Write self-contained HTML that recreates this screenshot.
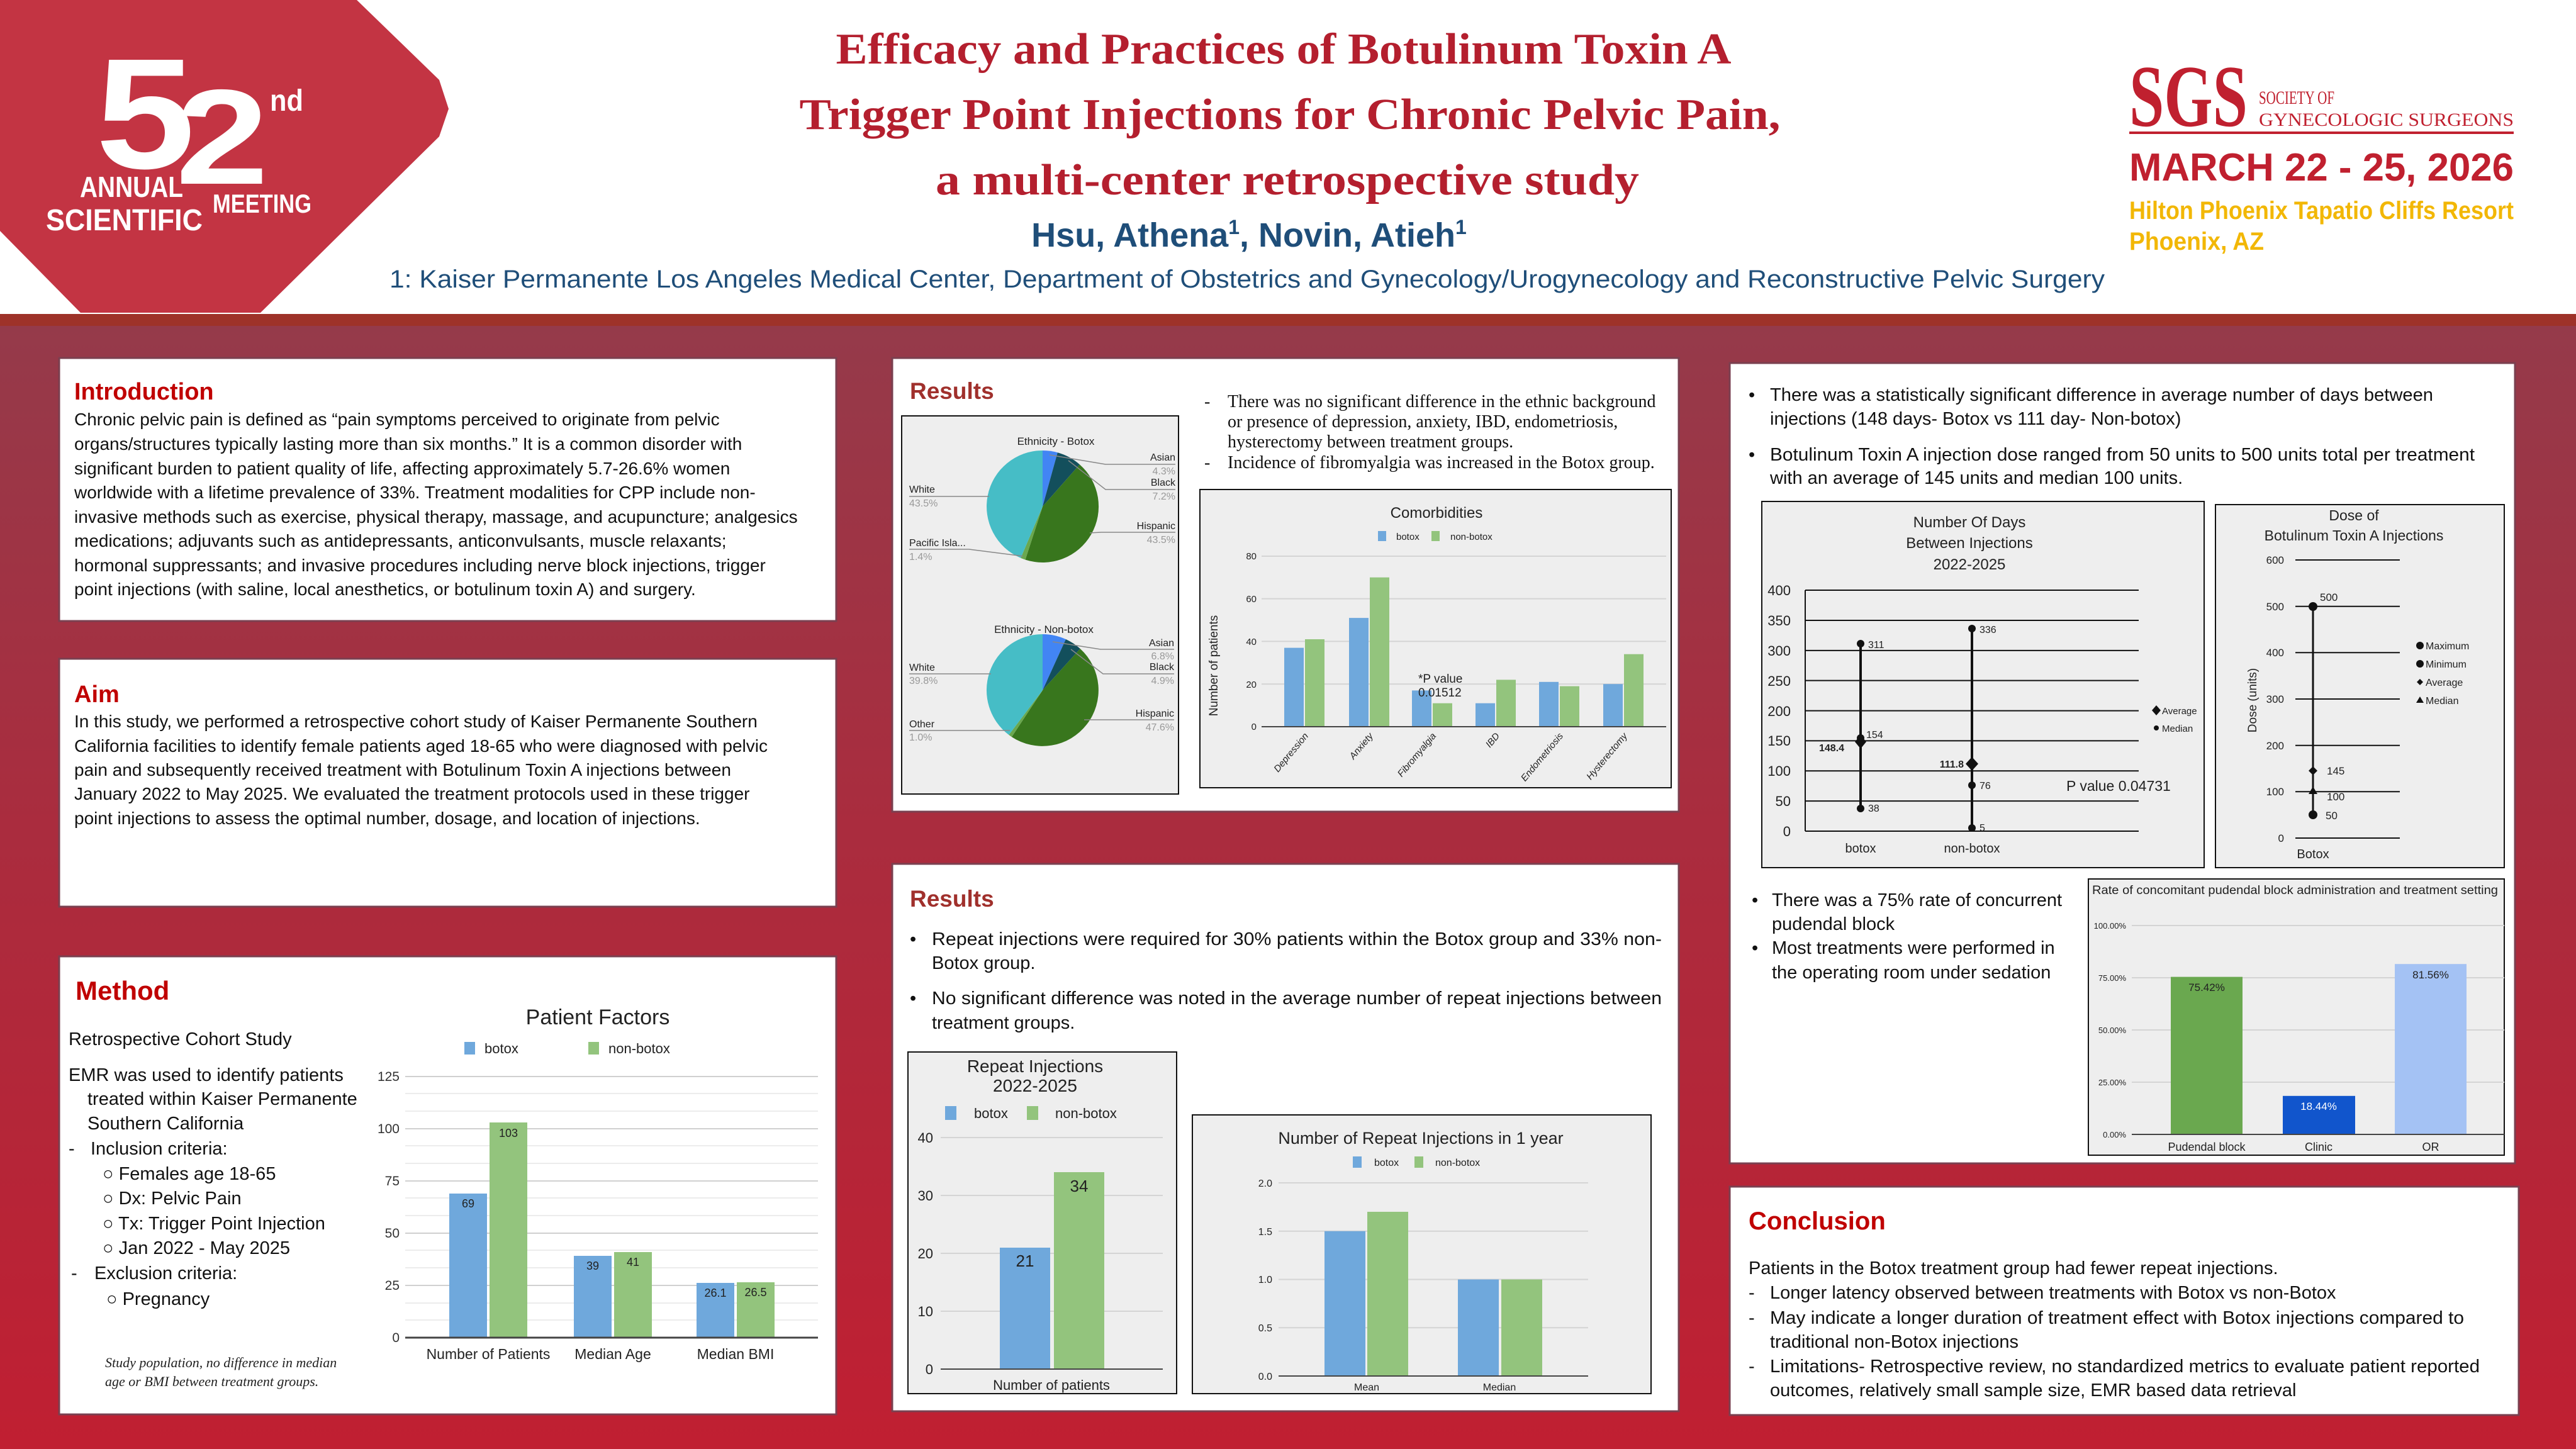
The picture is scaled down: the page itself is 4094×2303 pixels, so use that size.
<!DOCTYPE html>
<html><head><meta charset="utf-8">
<style>
html,body{margin:0;padding:0;background:#fff;}
svg{display:block;}
</style></head>
<body>
<svg xmlns="http://www.w3.org/2000/svg" width="4094" height="2303" viewBox="0 0 4094 2303" font-family="Liberation Sans, Arial, sans-serif">
<defs>
<linearGradient id="bg" x1="0" y1="0" x2="0" y2="1">
<stop offset="0" stop-color="#953a4a"/>
<stop offset="0.45" stop-color="#aa2c3e"/>
<stop offset="1" stop-color="#c01f32"/>
</linearGradient>
</defs>
<rect x="0" y="0" width="4094" height="500" fill="#fff"/>
<rect x="0" y="517" width="4094" height="1786" fill="url(#bg)"/>
<rect x="0" y="499" width="4094" height="19" fill="#9e3229"/>

<!-- logo -->
<polygon points="0,0 567,0 698,127 713,173 698,217 414,497 128,497 0,367" fill="#c33443"/>
<text x="152" y="267" font-size="250" font-weight="bold" fill="#fff" textLength="158" lengthAdjust="spacingAndGlyphs">5</text>
<text x="279" y="292" font-size="215" font-weight="bold" fill="#fff" textLength="148" lengthAdjust="spacingAndGlyphs">2</text>
<text x="429" y="176" font-size="48" font-weight="bold" fill="#fff" textLength="53" lengthAdjust="spacingAndGlyphs">nd</text>
<text x="127" y="313" font-size="46" font-weight="bold" fill="#fff" textLength="164" lengthAdjust="spacingAndGlyphs">ANNUAL</text>
<text x="73" y="366" font-size="48" font-weight="bold" fill="#fff" textLength="249" lengthAdjust="spacingAndGlyphs">SCIENTIFIC</text>
<text x="338" y="338" font-size="42" font-weight="bold" fill="#fff" textLength="157" lengthAdjust="spacingAndGlyphs">MEETING</text>

<!-- title -->
<g font-family="Liberation Serif, serif" font-weight="bold" fill="#b41f2e" font-size="70" text-anchor="middle">
<text x="2040" y="101" textLength="1423" lengthAdjust="spacingAndGlyphs">Efficacy and Practices of Botulinum Toxin A</text>
<text x="2050" y="205" textLength="1559" lengthAdjust="spacingAndGlyphs">Trigger Point Injections for Chronic Pelvic Pain,</text>
<text x="2046" y="309" textLength="1118" lengthAdjust="spacingAndGlyphs">a multi-center retrospective study</text>
</g>
<text x="1985" y="392" font-size="54" font-weight="bold" fill="#1f4e79" text-anchor="middle">Hsu, Athena<tspan font-size="32" dy="-20">1</tspan><tspan dy="20">, Novin, Atieh</tspan><tspan font-size="32" dy="-20">1</tspan></text>
<text x="619" y="457" font-size="40" fill="#1f4e79" textLength="2726" lengthAdjust="spacingAndGlyphs">1: Kaiser Permanente Los Angeles Medical Center, Department of Obstetrics and Gynecology/Urogynecology and Reconstructive Pelvic Surgery</text>

<!-- SGS -->
<text x="3384" y="200" font-family="Liberation Serif, serif" font-size="140" font-weight="bold" fill="#c0202f" textLength="188" lengthAdjust="spacingAndGlyphs">SGS</text>
<text x="3590" y="165" font-family="Liberation Serif, serif" font-size="30" fill="#c0202f" textLength="120" lengthAdjust="spacingAndGlyphs">SOCIETY OF</text>
<text x="3590" y="200" font-family="Liberation Serif, serif" font-size="30" fill="#c0202f" textLength="405" lengthAdjust="spacingAndGlyphs">GYNECOLOGIC SURGEONS</text>
<rect x="3384" y="209" width="611" height="4" fill="#c0202f"/>
<text x="3384" y="287" font-size="62" font-weight="bold" fill="#c0202f" textLength="611" lengthAdjust="spacingAndGlyphs">MARCH 22 - 25, 2026</text>
<text x="3384" y="348" font-size="40" font-weight="bold" fill="#f2b705" textLength="611" lengthAdjust="spacingAndGlyphs">Hilton Phoenix Tapatio Cliffs Resort</text>
<text x="3384" y="397" font-size="40" font-weight="bold" fill="#f2b705" textLength="214" lengthAdjust="spacingAndGlyphs">Phoenix, AZ</text>

<!-- panels -->
<g fill="#fff" stroke="#7a4050" stroke-width="3">
<rect x="94" y="569" width="1235" height="418"/>
<rect x="94" y="1047" width="1235" height="394"/>
<rect x="94" y="1520" width="1235" height="728"/>
<rect x="1418" y="569" width="1250" height="721"/>
<rect x="1418" y="1373" width="1250" height="870"/>
<rect x="2749" y="577" width="1248" height="1272"/>
<rect x="2749" y="1886" width="1254" height="363"/>
</g>

<!-- Introduction -->
<text x="118" y="635" font-size="38" font-weight="bold" fill="#c00000">Introduction</text>
<g font-size="28" fill="#111">
<text x="118" y="676">Chronic pelvic pain is defined as “pain symptoms perceived to originate from pelvic</text>
<text x="118" y="715">organs/structures typically lasting more than six months.” It is a common disorder with</text>
<text x="118" y="754">significant burden to patient quality of life, affecting approximately 5.7-26.6% women</text>
<text x="118" y="792">worldwide with a lifetime prevalence of 33%. Treatment modalities for CPP include non-</text>
<text x="118" y="831">invasive methods such as exercise, physical therapy, massage, and acupuncture; analgesics</text>
<text x="118" y="869">medications; adjuvants such as antidepressants, anticonvulsants, muscle relaxants;</text>
<text x="118" y="908">hormonal suppressants; and invasive procedures including nerve block injections, trigger</text>
<text x="118" y="946">point injections (with saline, local anesthetics, or botulinum toxin A) and surgery.</text>
</g>
<!-- Aim -->
<text x="118" y="1116" font-size="38" font-weight="bold" fill="#c00000">Aim</text>
<g font-size="28" fill="#111">
<text x="118" y="1156">In this study, we performed a retrospective cohort study of Kaiser Permanente Southern</text>
<text x="118" y="1195">California facilities to identify female patients aged 18-65 who were diagnosed with pelvic</text>
<text x="118" y="1233">pain and subsequently received treatment with Botulinum Toxin A  injections between</text>
<text x="118" y="1271">January 2022 to May 2025. We evaluated the treatment protocols used in these trigger</text>
<text x="118" y="1310">point injections to assess the optimal number, dosage, and location of injections.</text>
</g>

<!-- Method -->
<text x="120" y="1589" font-size="42" font-weight="bold" fill="#c00000">Method</text>
<g font-size="29" fill="#111">
<text x="109" y="1661">Retrospective Cohort Study</text>
<text x="109" y="1718">EMR was used to identify patients</text>
<text x="139" y="1756">treated within Kaiser Permanente</text>
<text x="139" y="1795">Southern California</text>
<text x="109" y="1835">-</text><text x="144" y="1835">Inclusion criteria:</text>
<text x="163" y="1875">○ Females age 18-65</text>
<text x="163" y="1914">○ Dx: Pelvic Pain</text>
<text x="163" y="1954">○ Tx: Trigger Point Injection</text>
<text x="163" y="1993">○ Jan 2022 - May 2025</text>
<text x="113" y="2033">-</text><text x="150" y="2033">Exclusion criteria:</text>
<text x="169" y="2074">○ Pregnancy</text>
</g>
<g font-family="Liberation Serif, serif" font-style="italic" font-size="22" fill="#222">
<text x="167" y="2173">Study population, no difference in median</text>
<text x="167" y="2203">age or BMI between treatment groups.</text>
</g>
<!-- Patient factors chart -->
<text x="950" y="1628" font-size="34" text-anchor="middle" fill="#222">Patient Factors</text>
<rect x="738" y="1656" width="17" height="20" fill="#6fa8dc"/><text x="770" y="1674" font-size="22" fill="#222">botox</text>
<rect x="935" y="1656" width="17" height="20" fill="#93c47d"/><text x="967" y="1674" font-size="22" fill="#222">non-botox</text>
<g stroke="#ececec" stroke-width="2">
<line x1="644" x2="1300" y1="1738" y2="1738"/><line x1="644" x2="1300" y1="1766" y2="1766"/>
<line x1="644" x2="1300" y1="1821" y2="1821"/><line x1="644" x2="1300" y1="1849" y2="1849"/>
<line x1="644" x2="1300" y1="1904" y2="1904"/><line x1="644" x2="1300" y1="1932" y2="1932"/>
<line x1="644" x2="1300" y1="1987" y2="1987"/><line x1="644" x2="1300" y1="2015" y2="2015"/>
<line x1="644" x2="1300" y1="2071" y2="2071"/><line x1="644" x2="1300" y1="2098" y2="2098"/>
</g>
<g stroke="#d0d0d0" stroke-width="2">
<line x1="644" x2="1300" y1="1711" y2="1711"/><line x1="644" x2="1300" y1="1794" y2="1794"/>
<line x1="644" x2="1300" y1="1877" y2="1877"/><line x1="644" x2="1300" y1="1960" y2="1960"/>
<line x1="644" x2="1300" y1="2043" y2="2043"/>
</g>
<g font-size="21" fill="#333" text-anchor="end">
<text x="635" y="1718">125</text><text x="635" y="1801">100</text><text x="635" y="1884">75</text>
<text x="635" y="1967">50</text><text x="635" y="2050">25</text><text x="635" y="2133">0</text>
</g>
<rect x="714" y="1897" width="60" height="229" fill="#6fa8dc"/>
<rect x="778" y="1784" width="60" height="342" fill="#93c47d"/>
<rect x="912" y="1996" width="60" height="130" fill="#6fa8dc"/>
<rect x="976" y="1990" width="60" height="136" fill="#93c47d"/>
<rect x="1107" y="2039" width="60" height="87" fill="#6fa8dc"/>
<rect x="1171" y="2038" width="60" height="88" fill="#93c47d"/>
<line x1="644" x2="1300" y1="2126" y2="2126" stroke="#444" stroke-width="3"/>
<g font-size="18" fill="#222" text-anchor="middle">
<text x="744" y="1919">69</text><text x="808" y="1807">103</text>
<text x="942" y="2018">39</text><text x="1006" y="2012">41</text>
<text x="1137" y="2061">26.1</text><text x="1201" y="2060">26.5</text>
</g>
<g font-size="23" fill="#222" text-anchor="middle">
<text x="776" y="2160">Number of Patients</text><text x="974" y="2160">Median Age</text><text x="1169" y="2160">Median BMI</text>
</g>

<!-- Results 1 -->
<text x="1446" y="634" font-size="37" font-weight="bold" fill="#a0302c">Results</text>
<g font-family="Liberation Serif, serif" font-size="28" fill="#111">
<text x="1914" y="647">-</text><text x="1951" y="647">There was no significant difference in the ethnic background</text>
<text x="1951" y="679">or presence of depression, anxiety, IBD, endometriosis,</text>
<text x="1951" y="711">hysterectomy between treatment groups.</text>
<text x="1914" y="744">-</text><text x="1951" y="744">Incidence of fibromyalgia was increased in the Botox group.</text>
</g>
<!-- pies -->
<rect x="1433" y="661" width="440" height="601" fill="#eeeeee" stroke="#111" stroke-width="2"/>
<text x="1678" y="707" font-size="17" text-anchor="middle" fill="#222">Ethnicity - Botox</text>
<path d="M1657,805 L1657,716 A89,89 0 0 1 1680.8,719.2 Z" fill="#4285f4"/>
<path d="M1657,805 L1680.8,719.2 A89,89 0 0 1 1715.9,738.2 Z" fill="#134f5c"/>
<path d="M1657,805 L1715.9,738.2 A89,89 0 0 1 1629.5,889.6 Z" fill="#38761d"/>
<path d="M1657,805 L1629.5,889.6 A89,89 0 0 1 1622.2,886.9 Z" fill="#6aa84f"/>
<path d="M1657,805 L1622.2,886.9 A89,89 0 0 1 1657,716 Z" fill="#46bdc6"/>
<g stroke="#888" stroke-width="1.5" fill="none">
<polyline points="1668,723 1757,738 1868,738"/>
<polyline points="1698,732 1757,778 1868,778"/>
<polyline points="1732,847 1750,846 1868,846"/>
<polyline points="1445,789 1572,789"/>
<polyline points="1445,873 1540,873 1626,884"/>
</g>
<g font-size="16" fill="#222">
<text x="1868" y="732" text-anchor="end">Asian</text><text x="1868" y="754" text-anchor="end" fill="#999">4.3%</text>
<text x="1868" y="772" text-anchor="end">Black</text><text x="1868" y="794" text-anchor="end" fill="#999">7.2%</text>
<text x="1868" y="841" text-anchor="end">Hispanic</text><text x="1868" y="863" text-anchor="end" fill="#999">43.5%</text>
<text x="1445" y="783">White</text><text x="1445" y="805" fill="#999">43.5%</text>
<text x="1445" y="868">Pacific Isla...</text><text x="1445" y="890" fill="#999">1.4%</text>
</g>
<text x="1659" y="1006" font-size="17" text-anchor="middle" fill="#222">Ethnicity - Non-botox</text>
<path d="M1657,1097 L1657,1008 A89,89 0 0 1 1693.9,1016 Z" fill="#4285f4"/>
<path d="M1657,1097 L1693.9,1016 A89,89 0 0 1 1716.7,1031 Z" fill="#134f5c"/>
<path d="M1657,1097 L1716.7,1031 A89,89 0 0 1 1607.9,1171.2 Z" fill="#38761d"/>
<path d="M1657,1097 L1607.9,1171.2 A89,89 0 0 1 1603.3,1168 Z" fill="#6aa84f"/>
<path d="M1657,1097 L1603.3,1168 A89,89 0 0 1 1657,1008 Z" fill="#46bdc6"/>
<g stroke="#888" stroke-width="1.5" fill="none">
<polyline points="1673,1020 1749,1032 1866,1032"/>
<polyline points="1702,1032 1753,1071 1866,1071"/>
<polyline points="1723,1144 1866,1144"/>
<polyline points="1445,1071 1575,1071"/>
<polyline points="1445,1161 1605,1161"/>
</g>
<g font-size="16" fill="#222">
<text x="1866" y="1027" text-anchor="end">Asian</text><text x="1866" y="1048" text-anchor="end" fill="#999">6.8%</text>
<text x="1866" y="1065" text-anchor="end">Black</text><text x="1866" y="1087" text-anchor="end" fill="#999">4.9%</text>
<text x="1866" y="1139" text-anchor="end">Hispanic</text><text x="1866" y="1161" text-anchor="end" fill="#999">47.6%</text>
<text x="1445" y="1066">White</text><text x="1445" y="1087" fill="#999">39.8%</text>
<text x="1445" y="1156">Other</text><text x="1445" y="1177" fill="#999">1.0%</text>
</g>
<!-- comorbidities -->
<rect x="1907" y="778" width="749" height="474" fill="#eeeeee" stroke="#111" stroke-width="2"/>
<text x="2283" y="823" font-size="24" text-anchor="middle" fill="#222">Comorbidities</text>
<rect x="2190" y="844" width="13" height="16" fill="#6fa8dc"/><text x="2219" y="858" font-size="15" fill="#222">botox</text>
<rect x="2275" y="844" width="13" height="16" fill="#93c47d"/><text x="2305" y="858" font-size="15" fill="#222">non-botox</text>
<g stroke="#d4d4d4" stroke-width="2">
<line x1="2005" x2="2648" y1="884" y2="884"/><line x1="2005" x2="2648" y1="951.6" y2="951.6"/>
<line x1="2005" x2="2648" y1="1019.4" y2="1019.4"/><line x1="2005" x2="2648" y1="1087.2" y2="1087.2"/>
</g>
<g font-size="15" fill="#222" text-anchor="end">
<text x="1997" y="889">80</text><text x="1997" y="957">60</text><text x="1997" y="1025">40</text><text x="1997" y="1093">20</text><text x="1997" y="1160">0</text>
</g>
<g fill="#6fa8dc">
<rect x="2041" y="1029.6" width="31" height="125.4"/><rect x="2144" y="982.1" width="31" height="172.9"/>
<rect x="2244" y="1097.4" width="31" height="57.6"/><rect x="2345" y="1117.7" width="31" height="37.3"/>
<rect x="2446" y="1083.8" width="31" height="71.2"/><rect x="2548" y="1087.2" width="31" height="67.8"/>
</g>
<g fill="#93c47d">
<rect x="2074" y="1016" width="31" height="139"/><rect x="2177" y="917.7" width="31" height="237.3"/>
<rect x="2277" y="1117.7" width="31" height="37.3"/><rect x="2378" y="1080.4" width="31" height="74.6"/>
<rect x="2479" y="1090.6" width="31" height="64.4"/><rect x="2581" y="1039.7" width="31" height="115.3"/>
</g>
<line x1="2005" x2="2648" y1="1155" y2="1155" stroke="#444" stroke-width="2"/>
<text x="2254" y="1085" font-size="19" fill="#222">*P value</text>
<text x="2254" y="1107" font-size="19" fill="#222">0.01512</text>
<text transform="translate(1935,1058) rotate(-90)" font-size="19" text-anchor="middle" fill="#222">Number of patients</text>
<g font-size="15" font-style="italic" fill="#222" text-anchor="end">
<text transform="translate(2080,1170) rotate(-50)">Depression</text>
<text transform="translate(2183,1170) rotate(-50)">Anxiety</text>
<text transform="translate(2283,1170) rotate(-50)">Fibromyalgia</text>
<text transform="translate(2384,1170) rotate(-50)">IBD</text>
<text transform="translate(2485,1170) rotate(-50)">Endometriosis</text>
<text transform="translate(2587,1170) rotate(-50)">Hysterectomy</text>
</g>

<!-- Results 2 -->
<text x="1446" y="1441" font-size="37" font-weight="bold" fill="#a0302c">Results</text>
<g font-size="29" fill="#111">
<text x="1446" y="1502">•</text><text x="1481" y="1502" textLength="1160" lengthAdjust="spacingAndGlyphs">Repeat injections were required for 30% patients within the Botox group and 33% non-</text>
<text x="1481" y="1540">Botox group.</text>
<text x="1446" y="1596">•</text><text x="1481" y="1596" textLength="1160" lengthAdjust="spacingAndGlyphs">No significant difference was noted in the average number of repeat injections between</text>
<text x="1481" y="1635">treatment groups.</text>
</g>
<rect x="1443" y="1672" width="427" height="543" fill="#eeeeee" stroke="#111" stroke-width="2"/>
<text x="1645" y="1704" font-size="28" text-anchor="middle" fill="#222">Repeat Injections</text>
<text x="1645" y="1735" font-size="28" text-anchor="middle" fill="#222">2022-2025</text>
<rect x="1502" y="1758" width="18" height="22" fill="#6fa8dc"/><text x="1548" y="1777" font-size="22" fill="#222">botox</text>
<rect x="1632" y="1758" width="18" height="22" fill="#93c47d"/><text x="1677" y="1777" font-size="22" fill="#222">non-botox</text>
<g stroke="#d4d4d4" stroke-width="2">
<line x1="1495" x2="1848" y1="1808" y2="1808"/><line x1="1495" x2="1848" y1="1900" y2="1900"/>
<line x1="1495" x2="1848" y1="1992" y2="1992"/><line x1="1495" x2="1848" y1="2084" y2="2084"/>
</g>
<g font-size="22" fill="#222" text-anchor="end">
<text x="1483" y="1816">40</text><text x="1483" y="1908">30</text><text x="1483" y="2000">20</text><text x="1483" y="2092">10</text><text x="1483" y="2184">0</text>
</g>
<rect x="1589" y="1983" width="80" height="193" fill="#6fa8dc"/>
<rect x="1675" y="1863" width="80" height="313" fill="#93c47d"/>
<line x1="1495" x2="1848" y1="2176" y2="2176" stroke="#444" stroke-width="2"/>
<text x="1629" y="2013" font-size="26" text-anchor="middle" fill="#222">21</text>
<text x="1715" y="1894" font-size="26" text-anchor="middle" fill="#222">34</text>
<text x="1671" y="2209" font-size="22" text-anchor="middle" fill="#222">Number of patients</text>

<rect x="1895" y="1772" width="729" height="443" fill="#eeeeee" stroke="#111" stroke-width="2"/>
<text x="2258" y="1818" font-size="27" text-anchor="middle" fill="#222">Number of Repeat Injections in 1 year</text>
<rect x="2150" y="1838" width="14" height="18" fill="#6fa8dc"/><text x="2184" y="1853" font-size="16" fill="#222">botox</text>
<rect x="2248" y="1838" width="14" height="18" fill="#93c47d"/><text x="2281" y="1853" font-size="16" fill="#222">non-botox</text>
<g stroke="#d4d4d4" stroke-width="2">
<line x1="2032" x2="2524" y1="1880" y2="1880"/><line x1="2032" x2="2524" y1="1956.8" y2="1956.8"/>
<line x1="2032" x2="2524" y1="2033.5" y2="2033.5"/><line x1="2032" x2="2524" y1="2110.3" y2="2110.3"/>
</g>
<g font-size="16" fill="#222" text-anchor="end">
<text x="2022" y="1886">2.0</text><text x="2022" y="1963">1.5</text><text x="2022" y="2039">1.0</text><text x="2022" y="2116">0.5</text><text x="2022" y="2193">0.0</text>
</g>
<rect x="2105" y="1956.8" width="65" height="230.2" fill="#6fa8dc"/>
<rect x="2173" y="1926" width="65" height="261" fill="#93c47d"/>
<rect x="2317" y="2033.5" width="65" height="153.5" fill="#6fa8dc"/>
<rect x="2386" y="2033.5" width="65" height="153.5" fill="#93c47d"/>
<line x1="2032" x2="2524" y1="2187" y2="2187" stroke="#444" stroke-width="2"/>
<text x="2172" y="2210" font-size="16" text-anchor="middle" fill="#222">Mean</text>
<text x="2383" y="2210" font-size="16" text-anchor="middle" fill="#222">Median</text>

<!-- Right panel -->
<g font-size="29" fill="#111">
<text x="2779" y="637">•</text><text x="2813" y="637" textLength="1054" lengthAdjust="spacingAndGlyphs">There was a statistically significant difference in average number of days between</text>
<text x="2813" y="675">injections (148 days- Botox vs 111 day- Non-botox)</text>
<text x="2779" y="732">•</text><text x="2813" y="732" textLength="1120" lengthAdjust="spacingAndGlyphs">Botulinum Toxin A injection dose ranged from 50 units to 500 units total per treatment</text>
<text x="2813" y="769">with an average of 145 units and median 100 units.</text>
</g>
<!-- days chart -->
<rect x="2800" y="797" width="703" height="582" fill="#eeeeee" stroke="#111" stroke-width="2"/>
<g font-size="24" fill="#222" text-anchor="middle">
<text x="3130" y="838">Number Of Days</text><text x="3130" y="871">Between Injections</text><text x="3130" y="905">2022-2025</text>
</g>
<g stroke="#111" stroke-width="2">
<line x1="2869" x2="3399" y1="938" y2="938"/><line x1="2869" x2="3399" y1="986" y2="986"/>
<line x1="2869" x2="3399" y1="1033.9" y2="1033.9"/><line x1="2869" x2="3399" y1="1081.6" y2="1081.6"/>
<line x1="2869" x2="3399" y1="1129.6" y2="1129.6"/><line x1="2869" x2="3399" y1="1177.4" y2="1177.4"/>
<line x1="2869" x2="3399" y1="1225.3" y2="1225.3"/><line x1="2869" x2="3399" y1="1273.1" y2="1273.1"/>
<line x1="2869" x2="3399" y1="1321" y2="1321"/><line x1="2869" x2="2869" y1="938" y2="1321"/>
</g>
<g font-size="22" fill="#222" text-anchor="end">
<text x="2846" y="946">400</text><text x="2846" y="994">350</text><text x="2846" y="1042">300</text>
<text x="2846" y="1090">250</text><text x="2846" y="1138">200</text><text x="2846" y="1185">150</text>
<text x="2846" y="1233">100</text><text x="2846" y="1281">50</text><text x="2846" y="1329">0</text>
</g>
<line x1="2957" x2="2957" y1="1023" y2="1285" stroke="#111" stroke-width="4"/>
<line x1="3134" x2="3134" y1="999" y2="1316" stroke="#111" stroke-width="4"/>
<g fill="#111">
<circle cx="2957" cy="1023" r="6"/><circle cx="2957" cy="1173" r="6"/><circle cx="2957" cy="1285" r="6"/>
<path d="M2957,1168 l9,11 l-9,11 l-9,-11 z"/>
<circle cx="3134" cy="999" r="6"/><circle cx="3134" cy="1248" r="6"/><circle cx="3134" cy="1316" r="6"/>
<path d="M3134,1203 l10,11 l-10,11 l-10,-11 z"/>
</g>
<g font-size="16" fill="#222">
<text x="2969" y="1030">311</text><text x="2966" y="1173">154</text><text x="2969" y="1290">38</text>
<text x="3146" y="1006">336</text><text x="3146" y="1254">76</text><text x="3146" y="1321">5</text>
<text x="2891" y="1194" font-weight="bold">148.4</text>
<text x="3121" y="1220" font-weight="bold" text-anchor="end">111.8</text>
</g>
<path d="M3427,1121 l7,8 l-7,8 l-7,-8 z" fill="#111"/><text x="3436" y="1135" font-size="15" fill="#222">Average</text>
<circle cx="3427" cy="1157" r="4" fill="#111"/><text x="3436" y="1163" font-size="15" fill="#222">Median</text>
<text x="3284" y="1257" font-size="23" fill="#222">P value 0.04731</text>
<text x="2957" y="1355" font-size="20" text-anchor="middle" fill="#222">botox</text>
<text x="3134" y="1355" font-size="20" text-anchor="middle" fill="#222">non-botox</text>

<!-- dose chart -->
<rect x="3521" y="802" width="459" height="577" fill="#eeeeee" stroke="#111" stroke-width="2"/>
<text x="3741" y="827" font-size="23" text-anchor="middle" fill="#222">Dose of</text>
<text x="3741" y="859" font-size="23" text-anchor="middle" fill="#222">Botulinum Toxin A Injections</text>
<g stroke="#111" stroke-width="2">
<line x1="3648" x2="3814" y1="890" y2="890"/><line x1="3648" x2="3814" y1="963.7" y2="963.7"/>
<line x1="3648" x2="3814" y1="1037.3" y2="1037.3"/><line x1="3648" x2="3814" y1="1111" y2="1111"/>
<line x1="3648" x2="3814" y1="1184.7" y2="1184.7"/><line x1="3648" x2="3814" y1="1258.3" y2="1258.3"/>
<line x1="3648" x2="3814" y1="1332" y2="1332"/>
</g>
<g font-size="17" fill="#222" text-anchor="end">
<text x="3630" y="896">600</text><text x="3630" y="970">500</text><text x="3630" y="1043">400</text>
<text x="3630" y="1117">300</text><text x="3630" y="1191">200</text><text x="3630" y="1264">100</text><text x="3630" y="1338">0</text>
</g>
<line x1="3676" x2="3676" y1="964" y2="1295" stroke="#111" stroke-width="3"/>
<g fill="#111">
<circle cx="3676" cy="964" r="7"/><circle cx="3676" cy="1295" r="7"/>
<path d="M3676,1218 l7,7 l-7,7 l-7,-7 z"/>
<path d="M3676,1250 l7,12 l-14,0 z"/>
</g>
<g font-size="17" fill="#222">
<text x="3687" y="955">500</text><text x="3698" y="1231">145</text><text x="3698" y="1272">100</text><text x="3696" y="1302">50</text>
</g>
<g font-size="16" fill="#222">
<circle cx="3846" cy="1026" r="6" fill="#111"/><text x="3855" y="1032">Maximum</text>
<circle cx="3846" cy="1055" r="6" fill="#111"/><text x="3855" y="1061">Minimum</text>
<path d="M3846,1079 l5,5 l-5,5 l-5,-5 z" fill="#111"/><text x="3855" y="1090">Average</text>
<path d="M3846,1107 l6,10 l-12,0 z" fill="#111"/><text x="3855" y="1119">Median</text>
</g>
<text transform="translate(3586,1113) rotate(-90)" font-size="19" text-anchor="middle" fill="#222">Dose (units)</text>
<text x="3676" y="1364" font-size="20" text-anchor="middle" fill="#222">Botox</text>

<g font-size="29" fill="#111">
<text x="2784" y="1440">•</text><text x="2816" y="1440">There was a 75% rate of concurrent</text>
<text x="2816" y="1478">pudendal block</text>
<text x="2784" y="1516">•</text><text x="2816" y="1516">Most treatments were performed in</text>
<text x="2816" y="1555">the operating room under sedation</text>
</g>
<!-- pudendal chart -->
<rect x="3319" y="1397" width="661" height="439" fill="#eeeeee" stroke="#111" stroke-width="2"/>
<text x="3325" y="1421" font-size="19" fill="#222" textLength="645" lengthAdjust="spacingAndGlyphs">Rate of concomitant pudendal block administration and treatment setting</text>
<g stroke="#d4d4d4" stroke-width="2">
<line x1="3388" x2="3980" y1="1471" y2="1471"/><line x1="3388" x2="3980" y1="1554" y2="1554"/>
<line x1="3388" x2="3980" y1="1637" y2="1637"/><line x1="3388" x2="3980" y1="1720" y2="1720"/>
</g>
<g font-size="13" fill="#222" text-anchor="end">
<text x="3379" y="1476">100.00%</text><text x="3379" y="1559">75.00%</text><text x="3379" y="1642">50.00%</text>
<text x="3379" y="1725">25.00%</text><text x="3379" y="1808">0.00%</text>
</g>
<rect x="3450" y="1552.6" width="114" height="250.4" fill="#6aa84f"/>
<rect x="3628" y="1741.8" width="115" height="61.2" fill="#1155cc"/>
<rect x="3806" y="1532.2" width="114" height="270.8" fill="#a4c2f4"/>
<line x1="3388" x2="3980" y1="1803" y2="1803" stroke="#444" stroke-width="2"/>
<g font-size="17" text-anchor="middle">
<text x="3507" y="1575" fill="#222">75.42%</text>
<text x="3685" y="1764" fill="#fff">18.44%</text>
<text x="3863" y="1555" fill="#222">81.56%</text>
</g>
<g font-size="18" fill="#222" text-anchor="middle">
<text x="3507" y="1829">Pudendal block</text><text x="3685" y="1829">Clinic</text><text x="3863" y="1829">OR</text>
</g>

<!-- Conclusion -->
<text x="2779" y="1954" font-size="40" font-weight="bold" fill="#c00000">Conclusion</text>
<g font-size="29" fill="#111">
<text x="2779" y="2025">Patients in the Botox treatment group had fewer repeat injections.</text>
<text x="2779" y="2064">-</text><text x="2813" y="2064">Longer latency observed between treatments with Botox vs non-Botox</text>
<text x="2779" y="2104">-</text><text x="2813" y="2104" textLength="1103" lengthAdjust="spacingAndGlyphs">May indicate a longer duration of treatment effect with Botox injections compared to</text>
<text x="2813" y="2142">traditional non-Botox injections</text>
<text x="2779" y="2181">-</text><text x="2813" y="2181" textLength="1128" lengthAdjust="spacingAndGlyphs">Limitations- Retrospective review, no standardized metrics to evaluate patient reported</text>
<text x="2813" y="2219">outcomes, relatively small sample size, EMR based data retrieval</text>
</g>
</svg>
</body></html>
